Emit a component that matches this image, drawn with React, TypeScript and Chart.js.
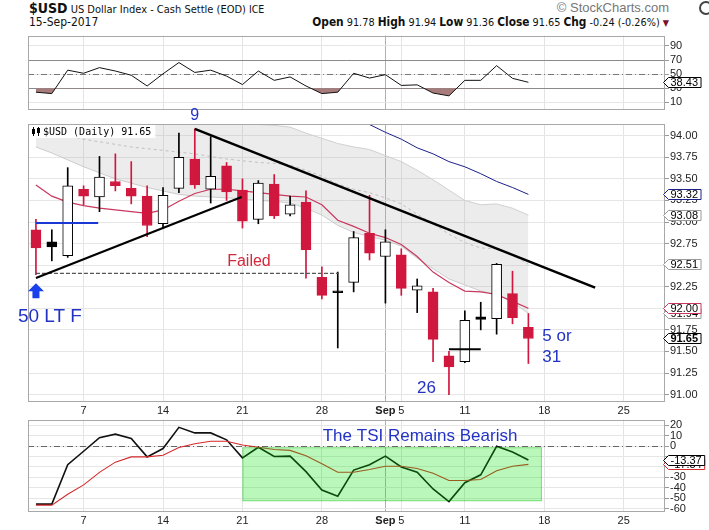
import React, { useEffect, useRef } from "react";
import { Chart, registerables } from "chart.js";

Chart.register(...registerables);

// ---------------- data ----------------
const sessions = [
  "Aug 2", "Aug 3", "Aug 4", "Aug 7", "Aug 8", "Aug 9", "Aug 10", "Aug 11",
  "Aug 14", "Aug 15", "Aug 16", "Aug 17", "Aug 18", "Aug 21", "Aug 22", "Aug 23",
  "Aug 24", "Aug 25", "Aug 28", "Aug 29", "Aug 30", "Aug 31", "Sep 1", "Sep 5",
  "Sep 6", "Sep 7", "Sep 8", "Sep 11", "Sep 12", "Sep 13", "Sep 14", "Sep 15",
];

const opens = [92.91, 92.77, 92.61, 93.38, 93.29, 93.47, 93.39, 93.30, 92.98, 93.39, 93.73, 93.38, 93.65, 93.37, 93.03, 93.44, 93.09, 93.23, 92.36, 92.19, 92.30, 92.87, 92.60, 92.62, 92.21, 92.19, 91.45, 91.38, 91.90, 91.88, 92.17, 91.78];
const highs = [93.03, 92.91, 93.63, 93.42, 93.76, 93.79, 93.70, 93.42, 93.40, 94.03, 94.08, 93.99, 93.69, 93.50, 93.48, 93.55, 93.30, 93.36, 92.48, 92.42, 92.89, 93.31, 92.91, 92.69, 92.34, 92.23, 91.50, 91.97, 92.07, 92.52, 92.43, 91.94];
const lows = [92.39, 92.55, 92.59, 93.20, 93.12, 93.36, 93.21, 92.83, 92.93, 93.34, 93.39, 93.22, 93.25, 92.93, 92.98, 93.04, 93.07, 92.35, 92.11, 91.54, 92.19, 92.56, 92.06, 92.15, 91.95, 91.38, 91.00, 91.37, 91.75, 91.70, 91.82, 91.36];
const closes = [92.70, 92.71, 93.42, 93.30, 93.52, 93.42, 93.30, 92.96, 93.31, 93.75, 93.43, 93.53, 93.35, 93.01, 93.45, 93.07, 93.20, 92.68, 92.15, 92.18, 92.82, 92.64, 92.77, 92.23, 92.26, 91.64, 91.32, 91.86, 91.87, 92.51, 91.89, 91.65];

const redAverage = [93.43, 93.30, 93.23, 93.19, 93.16, 93.14, 93.12, 93.10, 93.14, 93.24, 93.33, 93.38, 93.38, 93.36, 93.34, 93.32, 93.30, 93.29, 93.20, 93.02, 92.95, 92.87, 92.82, 92.74, 92.60, 92.42, 92.30, 92.20, 92.19, 92.16, 92.08, 92.00];
const bandUpper = [94.33, 94.30, 94.28, 94.28, 94.29, 94.30, 94.29, 94.30, 94.30, 94.30, 94.28, 94.23, 94.18, 94.15, 94.13, 94.12, 94.10, 94.03, 93.97, 93.91, 93.87, 93.84, 93.77, 93.70, 93.60, 93.49, 93.37, 93.25, 93.20, 93.21, 93.16, 93.08];
const bandMiddle = [94.10, 94.05, 94.00, 93.96, 93.93, 93.90, 93.87, 93.85, 93.83, 93.81, 93.79, 93.76, 93.73, 93.71, 93.69, 93.68, 93.66, 93.60, 93.53, 93.44, 93.38, 93.34, 93.28, 93.21, 93.09, 92.98, 92.86, 92.76, 92.70, 92.69, 92.62, 92.51];
const bandLower = [93.87, 93.80, 93.72, 93.64, 93.57, 93.50, 93.45, 93.40, 93.36, 93.32, 93.30, 93.29, 93.28, 93.27, 93.25, 93.24, 93.22, 93.16, 93.08, 92.96, 92.88, 92.83, 92.79, 92.72, 92.58, 92.46, 92.34, 92.27, 92.20, 92.16, 92.07, 91.94];
const sma50 = [null, null, null, null, null, null, null, null, null, null, null, null, null, null, null, null, null, null, null, null, 94.21, 94.13, 94.04, 93.96, 93.86, 93.79, 93.70, 93.64, 93.56, 93.47, 93.40, 93.32];

const rsi = [24.4, 22.4, 55.6, 51.2, 59.2, 54.4, 48.4, 33.2, 50.4, 66.4, 52.4, 55.6, 47.2, 35.2, 54.4, 41.2, 46, 33.2, 22.4, 24.4, 51.2, 44.4, 49.2, 34, 34.8, 23.2, 19.2, 41.2, 41.2, 62, 44, 38.43];
const tsi = [-55.5, -55.5, -17.8, -5, 8, 11.3, 7.1, -10.4, -2.4, 17.8, 12.5, 12.5, 5.9, -11.3, -1.2, -10, -9.7, -24.5, -42, -48, -23, -17.9, -9.7, -20, -25, -41, -53, -35, -27.5, -0.3, -5.7, -13.37];
const tsiSignal = [-56.4, -56.4, -46, -37.1, -25.2, -15.4, -10.4, -10.4, -8.9, -1.5, 2.1, 4.5, 4.5, 0.9, -1.2, -3.3, -4.2, -9.4, -17, -25, -25, -22.4, -19.4, -19.4, -21.5, -26, -33, -33, -32, -23.6, -19.4, -17.54];

// hand-drawn annotation lines (session index, price)
const risingTrendX = [0, 12.95];
const risingTrendY = [92.35, 93.29];
const fallingTrendX = [10, 35.2];
const fallingTrendY = [94.08, 92.24];
const failedLevelX = [0, 19.05];
const failedLevelY = [92.405, 92.405];
const blueLevelX = [0, 3.92];
const blueLevelY = [92.99, 92.99];
const blackLevelX = [26, 28];
const blackLevelY = [91.525, 91.525];

// TSI highlight box (session index, TSI value)
const tsiBoxX = [13, 31.85];
const tsiBoxY = [-1.2, -52.7];

// axes
const gridTicks = [3, 8, 13, 18, 22, 23, 27, 32, 37];
const gridLabels = ["7", "14", "21", "28", "Sep", "5", "11", "18", "25"];
const monthTick = 22;
const priceTicks = [91, 91.25, 91.5, 91.75, 92, 92.25, 92.5, 92.75, 93, 93.25, 93.5, 93.75, 94];
const rsiTicks = [10, 30, 50, 70, 90];
const rsiLevels = [70, 30];
const rsiMidLevel = 50;
const tsiTicks = [20, 10, 0, -10, -20, -30, -40, -50, -60];
const tsiHiddenLabels = [-10, -20];

const X_MIN = -0.5;
const X_MAX = 39.6;
const PRICE_MIN = 90.914;
const PRICE_MAX = 94.136;
const RSI_MIN = 0;
const RSI_MAX = 104.6;
const TSI_MIN = -63;
const TSI_MAX = 25.2;

// ---------------- styles ----------------
const FONT = '"Liberation Sans", Arial, Helvetica, sans-serif';
const NARROW = '"Liberation Sans Narrow", "Arial Narrow", "DejaVu Sans Condensed", "Liberation Sans", sans-serif';
const RED = "#d0173e";
const NOTE_BLUE = "#2233c4";

const candleUp = closes.map((c, i) => c >= (i > 0 ? closes[i - 1] : opens[i]));
const candleHollow = closes.map((c, i) => c >= opens[i]);
const edgeColors = candleUp.map((u) => (u ? "#000" : RED));
const bodyColors = candleHollow.map((h, i) => (h ? "#fff" : edgeColors[i]));

const mainNotes = [
  { text: "9", x: 10, y: 94.23, color: NOTE_BLUE, size: 16, align: "center" },
  { text: "Failed", x: 13.41, y: 92.547, color: "#d4283c", size: 16, align: "center" },
  { text: "50 LT F", x: 0.88, y: 91.9, color: NOTE_BLUE, size: 19, align: "center" },
  { text: "26", x: 24.59, y: 91.074, color: NOTE_BLUE, size: 17, align: "center" },
  { text: "5 or", x: 31.88, y: 91.677, color: NOTE_BLUE, size: 17, align: "left" },
  { text: "31", x: 31.88, y: 91.433, color: NOTE_BLUE, size: 17, align: "left" },
];

function pts(values: (number | null)[]) {
  return values.map((v, i) => ({ x: i, y: v }));
}
function pairPts(xs: number[], ys: number[]) {
  return xs.map((x, i) => ({ x, y: ys[i] }));
}

function xScale(showLabels: boolean, axisHeight: number) {
  return {
    type: "linear",
    min: X_MIN,
    max: X_MAX,
    offset: false,
    afterBuildTicks: (s: any) => {
      s.ticks = gridTicks.map((v) => ({ value: v }));
    },
    afterFit: (s: any) => {
      s.height = axisHeight;
    },
    grid: {
      offset: false,
      drawTicks: false,
      color: (c: any) => (c.tick && c.tick.value === monthTick ? "#b0b0b0" : "#e4e4e4"),
      lineWidth: 1,
    },
    border: { display: false },
    ticks: {
      display: showLabels,
      autoSkip: false,
      maxRotation: 0,
      minRotation: 0,
      padding: 2,
      color: "#222",
      font: (c: any) => ({ family: FONT, size: 11, weight: c.tick && c.tick.value === monthTick ? "bold" : "normal" }),
      callback: (v: any) => {
        const k = gridTicks.indexOf(Number(v));
        return k >= 0 ? gridLabels[k] : "";
      },
    },
  };
}

function yScale(min: number, max: number, ticks: number[], fmt: (v: number) => string) {
  return {
    type: "linear",
    position: "right",
    min,
    max,
    afterBuildTicks: (s: any) => {
      s.ticks = ticks.map((v) => ({ value: v }));
    },
    afterFit: (s: any) => {
      s.width = 44;
    },
    grid: { color: "#e6e6e6", drawTicks: true, tickLength: 4, tickColor: "#999" },
    border: { display: false },
    ticks: { padding: 1, autoSkip: false, color: "#222", font: { family: FONT, size: 11 }, callback: (v: any) => fmt(Number(v)) },
  };
}

function drawFrame(chart: any) {
  const { ctx, chartArea: a } = chart;
  ctx.save();
  ctx.strokeStyle = "#a8a8a8";
  ctx.lineWidth = 1;
  ctx.strokeRect(Math.round(a.left) + 0.5, Math.round(a.top) + 0.5, Math.round(a.right - a.left) - 1, Math.round(a.bottom - a.top) - 1);
  ctx.restore();
}

function drawTag(chart: any, value: number, text: string, stroke: string, bold = false) {
  const { ctx, chartArea: a } = chart;
  const y = Math.round(chart.scales.y.getPixelForValue(value)) + 0.5;
  const x0 = Math.round(a.right) - 1.5;
  ctx.save();
  ctx.font = `${bold ? "bold " : ""}11px ${FONT}`;
  const w = ctx.measureText(text).width + 5;
  ctx.beginPath();
  ctx.moveTo(x0, y);
  ctx.lineTo(x0 + 5, y - 5);
  ctx.lineTo(x0 + 5 + w, y - 5);
  ctx.lineTo(x0 + 5 + w, y + 5);
  ctx.lineTo(x0 + 5, y + 5);
  ctx.closePath();
  ctx.fillStyle = "#fff";
  ctx.fill();
  ctx.strokeStyle = stroke;
  ctx.lineWidth = 1;
  ctx.stroke();
  ctx.fillStyle = "#000";
  ctx.textAlign = "left";
  ctx.textBaseline = "middle";
  ctx.fillText(text, x0 + 7, y + 0.5);
  ctx.restore();
}

function hLine(chart: any, value: number, color: string, dash: number[]) {
  const { ctx, chartArea: a } = chart;
  const y = Math.round(chart.scales.y.getPixelForValue(value)) + 0.5;
  ctx.save();
  ctx.strokeStyle = color;
  ctx.lineWidth = 1;
  ctx.setLineDash(dash);
  ctx.beginPath();
  ctx.moveTo(a.left, y);
  ctx.lineTo(a.right, y);
  ctx.stroke();
  ctx.restore();
}

const baseOptions = {
  animation: false,
  responsive: false,
  devicePixelRatio: 1,
  events: [],
  plugins: { legend: { display: false }, tooltip: { enabled: false } },
};

function rsiConfig(): any {
  const last = rsi[rsi.length - 1];
  return {
    type: "line",
    data: {
      datasets: [
        {
          data: pts(rsi),
          borderColor: "#111",
          borderWidth: 1,
          pointRadius: 0,
          tension: 0,
          fill: { target: { value: 30 }, above: "rgba(0,0,0,0)", below: "#a87b7b" },
        },
      ],
    },
    options: {
      ...baseOptions,
      layout: { padding: { left: 28, top: 3, right: 0, bottom: 0 } },
      scales: { x: xScale(false, 0), y: yScale(RSI_MIN, RSI_MAX, rsiTicks, (v) => String(v)) },
    },
    plugins: [
      {
        id: "rsiDeco",
        beforeDatasetsDraw(chart: any) {
          rsiLevels.forEach((l) => hLine(chart, l, "#8a8a8a", []));
          hLine(chart, rsiMidLevel, "#777", [6, 3, 1, 3]);
        },
        afterDraw(chart: any) {
          drawFrame(chart);
          drawTag(chart, last, last.toFixed(2), "#000");
        },
      },
    ],
  };
}

function mainConfig(): any {
  const n = closes.length;
  const lastClose = closes[n - 1];
  const lineDs = (data: any[], color: string, width: number, extra: any = {}) => ({
    type: "line",
    data,
    borderColor: color,
    borderWidth: width,
    pointRadius: 0,
    tension: 0,
    fill: false,
    ...extra,
  });
  return {
    type: "bar",
    data: {
      datasets: [
        lineDs(pts(bandUpper), "#d0d0d0", 1, { fill: "+1", backgroundColor: "rgba(175,175,175,0.24)", order: 9 }),
        lineDs(pts(bandLower), "#d0d0d0", 1, { order: 9 }),
        lineDs(pts(bandMiddle), "#c0c0c0", 1, { borderDash: [3, 3], order: 8 }),
        lineDs(pts(redAverage), "#c8385e", 1.2, { order: 7 }),
        lineDs(pts(sma50), "#1b1f8a", 1, { order: 7 }),
        {
          type: "bar",
          data: sessions.map((_, i) => ({ x: i, y: [lows[i], highs[i]] })),
          backgroundColor: edgeColors,
          borderWidth: 0,
          barThickness: 1,
          grouped: false,
          order: 4,
        },
        {
          type: "bar",
          data: sessions.map((_, i) => ({ x: i, y: [opens[i], closes[i]] })),
          backgroundColor: bodyColors,
          borderColor: edgeColors,
          borderWidth: 1,
          borderSkipped: false,
          barThickness: 10,
          minBarLength: 2,
          grouped: false,
          order: 3,
        },
        lineDs(pairPts(failedLevelX, failedLevelY), "#555", 1.2, { borderDash: [4, 2], order: 1 }),
        lineDs(pairPts(blueLevelX, blueLevelY), "#1a36d4", 2, { order: 1 }),
        lineDs(pairPts(blackLevelX, blackLevelY), "#000", 2, { order: 1 }),
        lineDs(pairPts(risingTrendX, risingTrendY), "#000", 2.2, { order: 0 }),
        lineDs(pairPts(fallingTrendX, fallingTrendY), "#000", 2.5, { order: 0 }),
      ],
    },
    options: {
      ...baseOptions,
      layout: { padding: { left: 28, top: 24, right: 0, bottom: 0 } },
      scales: { x: xScale(true, 15), y: yScale(PRICE_MIN, PRICE_MAX, priceTicks, (v) => v.toFixed(2)) },
    },
    plugins: [
      {
        id: "mainDeco",
        afterDraw(chart: any) {
          const { ctx, chartArea: a, scales } = chart;
          drawFrame(chart);
          // legend box
          ctx.save();
          ctx.font = '10px "DejaVu Sans Mono", monospace';
          const label = `$USD (Daily) ${lastClose.toFixed(2)}`;
          const tw = ctx.measureText(label).width;
          ctx.fillStyle = "#fff";
          ctx.fillRect(a.left + 1, a.top + 1, tw + 18, 13);
          ctx.fillStyle = "#000";
          ctx.fillRect(a.left + 4, a.top + 5, 3, 5);
          ctx.fillRect(a.left + 5, a.top + 3, 1, 9);
          ctx.fillRect(a.left + 9, a.top + 4, 3, 5);
          ctx.fillRect(a.left + 10, a.top + 3, 1, 9);
          ctx.textBaseline = "middle";
          ctx.textAlign = "left";
          ctx.fillText(label, a.left + 15, a.top + 8);
          ctx.restore();

          // text notes
          mainNotes.forEach((nte) => {
            ctx.save();
            ctx.font = `${nte.size}px ${FONT}`;
            ctx.fillStyle = nte.color;
            ctx.textAlign = nte.align;
            ctx.textBaseline = "middle";
            ctx.fillText(nte.text, scales.x.getPixelForValue(nte.x), scales.y.getPixelForValue(nte.y));
            ctx.restore();
          });

          // blue arrow under the first low
          const ax = scales.x.getPixelForValue(0);
          const ty = scales.y.getPixelForValue(92.29);
          const by = scales.y.getPixelForValue(92.117);
          ctx.save();
          ctx.fillStyle = "#1a40ee";
          ctx.beginPath();
          ctx.moveTo(ax, ty);
          ctx.lineTo(ax + 8, ty + 8);
          ctx.lineTo(ax + 3.5, ty + 8);
          ctx.lineTo(ax + 3.5, by);
          ctx.lineTo(ax - 3.5, by);
          ctx.lineTo(ax - 3.5, ty + 8);
          ctx.lineTo(ax - 8, ty + 8);
          ctx.closePath();
          ctx.fill();
          ctx.restore();

          // value tags
          drawTag(chart, bandLower[n - 1], bandLower[n - 1].toFixed(2), "#999");
          drawTag(chart, redAverage[n - 1], redAverage[n - 1].toFixed(2), "#c8385e");
          drawTag(chart, bandMiddle[n - 1], bandMiddle[n - 1].toFixed(2), "#999");
          drawTag(chart, bandUpper[n - 1], bandUpper[n - 1].toFixed(2), "#999");
          drawTag(chart, sma50[n - 1] as number, (sma50[n - 1] as number).toFixed(2), "#1b1f8a");
          drawTag(chart, lastClose, lastClose.toFixed(2), "#000", true);
        },
      },
    ],
  };
}

function tsiConfig(): any {
  const n = tsi.length;
  return {
    type: "line",
    data: {
      datasets: [
        { data: pts(tsiSignal), borderColor: "#d42a2a", borderWidth: 1.1, pointRadius: 0, tension: 0, fill: false },
        { data: pts(tsi), borderColor: "#111", borderWidth: 1.6, pointRadius: 0, tension: 0, fill: false },
      ],
    },
    options: {
      ...baseOptions,
      layout: { padding: { left: 28, top: 3, right: 0, bottom: 0 } },
      scales: {
        x: xScale(true, 18),
        y: yScale(TSI_MIN, TSI_MAX, tsiTicks, (v) => (tsiHiddenLabels.includes(v) ? "" : String(v))),
      },
    },
    plugins: [
      {
        id: "tsiDeco",
        beforeDatasetsDraw(chart: any) {
          hLine(chart, 0, "#666", [6, 3, 1, 3]);
        },
        afterDatasetsDraw(chart: any) {
          const { ctx, scales } = chart;
          const x1 = scales.x.getPixelForValue(tsiBoxX[0]);
          const x2 = scales.x.getPixelForValue(tsiBoxX[1]);
          const y1 = scales.y.getPixelForValue(tsiBoxY[0]);
          const y2 = scales.y.getPixelForValue(tsiBoxY[1]);
          ctx.save();
          ctx.fillStyle = "rgba(0,225,0,0.27)";
          ctx.fillRect(x1, y1, x2 - x1, y2 - y1);
          ctx.strokeStyle = "rgba(0,170,0,0.35)";
          ctx.lineWidth = 1;
          ctx.strokeRect(x1 + 0.5, y1 + 0.5, x2 - x1 - 1, y2 - y1 - 1);
          ctx.restore();
        },
        afterDraw(chart: any) {
          const { ctx, scales } = chart;
          drawFrame(chart);
          ctx.save();
          ctx.font = `17px ${FONT}`;
          ctx.fillStyle = NOTE_BLUE;
          ctx.textAlign = "center";
          ctx.textBaseline = "middle";
          ctx.fillText("The TSI Remains Bearish", scales.x.getPixelForValue(24.18), scales.y.getPixelForValue(8.8));
          ctx.restore();
          drawTag(chart, tsiSignal[n - 1], tsiSignal[n - 1].toFixed(2), "#d42a2a");
          drawTag(chart, tsi[n - 1], tsi[n - 1].toFixed(2), "#000");
        },
      },
    ],
  };
}

export default function App() {
  const rsiRef = useRef<HTMLCanvasElement>(null);
  const mainRef = useRef<HTMLCanvasElement>(null);
  const tsiRef = useRef<HTMLCanvasElement>(null);

  useEffect(() => {
    const charts: Chart[] = [];
    if (rsiRef.current) charts.push(new Chart(rsiRef.current, rsiConfig()));
    if (mainRef.current) charts.push(new Chart(mainRef.current, mainConfig()));
    if (tsiRef.current) charts.push(new Chart(tsiRef.current, tsiConfig()));
    return () => charts.forEach((c) => c.destroy());
  }, []);

  const last = closes.length - 1;
  const chg = closes[last] - closes[last - 1];
  const pct = (chg / closes[last - 1]) * 100;

  return (
    <div style={{ position: "fixed", left: 0, top: 0, width: 709, height: 530, background: "#fff", overflow: "hidden" }}>
      <div style={{ position: "absolute", left: 29, top: 0, whiteSpace: "nowrap", fontFamily: NARROW, color: "#111", lineHeight: "16px" }}>
        <span style={{ fontWeight: "bold", fontSize: 14 }}>$USD</span>
        <span style={{ fontSize: 11 }}> US Dollar Index - Cash Settle (EOD)</span>
        <span style={{ fontSize: 10.5 }}> ICE</span>
      </div>
      <div style={{ position: "absolute", left: 29, top: 15, whiteSpace: "nowrap", fontFamily: NARROW, fontSize: 12, color: "#111", lineHeight: "14px" }}>
        15-Sep-2017
      </div>
      <div style={{ position: "absolute", right: 40, top: 1, whiteSpace: "nowrap", fontFamily: FONT, fontSize: 13, color: "#777", lineHeight: "14px" }}>
        © StockCharts.com
      </div>
      <div style={{ position: "absolute", right: 40, top: 15, whiteSpace: "nowrap", fontFamily: NARROW, fontSize: 10.8, color: "#111", lineHeight: "14px" }}>
        <b style={{ fontSize: 11.8 }}>Open</b> {opens[last].toFixed(2)} <b style={{ fontSize: 11.8 }}>High</b> {highs[last].toFixed(2)}{" "}
        <b style={{ fontSize: 11.8 }}>Low</b> {lows[last].toFixed(2)} <b style={{ fontSize: 11.8 }}>Close</b> {closes[last].toFixed(2)}{" "}
        <b style={{ fontSize: 11.8 }}>Chg</b> {chg.toFixed(2)} ({pct.toFixed(2)}%) <span style={{ color: "#7a1030", fontSize: 9 }}>▼</span>
      </div>
      <div style={{ position: "absolute", left: 699, top: 1, width: 14, height: 14, borderRadius: "50%", border: "2px solid #444", boxSizing: "border-box" }} />
      <canvas ref={rsiRef} width={709} height={89} style={{ position: "absolute", left: 0, top: 28 }} />
      <canvas ref={mainRef} width={709} height={317} style={{ position: "absolute", left: 0, top: 100 }} />
      <canvas ref={tsiRef} width={709} height={118} style={{ position: "absolute", left: 0, top: 412 }} />
    </div>
  );
}
